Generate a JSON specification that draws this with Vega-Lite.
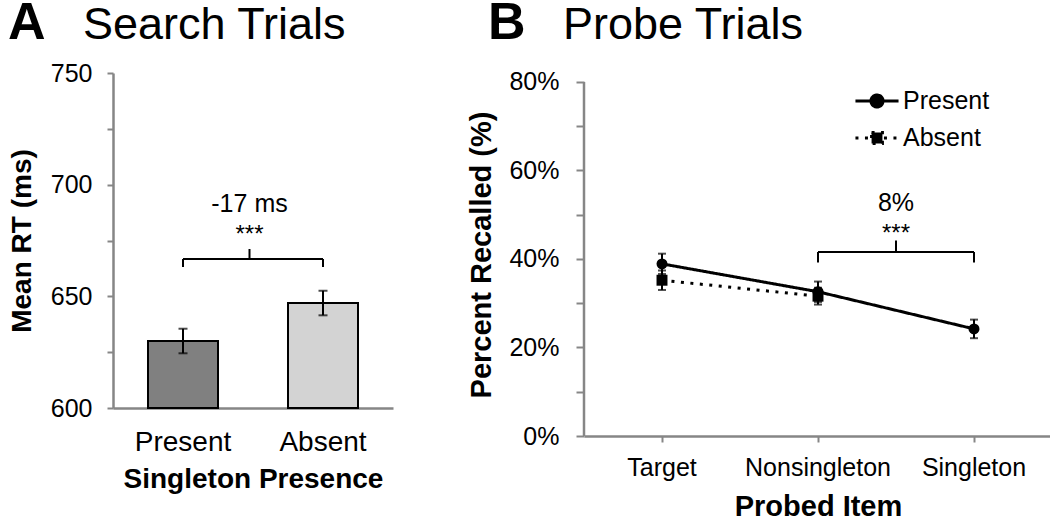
{
  "$schema": "https://vega.github.io/schema/vega-lite/v6.json",
  "padding": {"left": 8, "top": -4, "right": 0, "bottom": 0},
  "background": "white",
  "bounds": "full",
  "center": false,
  "spacing": 74,
  "resolve": {"legend": {"strokeDash": "independent"}},
  "config": {
    "view": {"stroke": null},
    "font": "Liberation Sans",
    "axis": {
      "domainColor": "#868686",
      "domainWidth": 2.5,
      "tickColor": "#868686",
      "tickWidth": 2,
      "labelColor": "black",
      "titleColor": "black",
      "labelFont": "Liberation Sans",
      "titleFont": "Liberation Sans",
      "grid": false
    },
    "text": {"font": "Liberation Sans"}
  },
  "hconcat": [
    {
      "width": 280,
      "height": 335,
      "title": {
        "text": "A",
        "subtitle": "\u200b\u00a0\u00a0\u00a0\u00a0\u00a0\u00a0Search Trials",
        "anchor": "start",
        "frame": "group",
        "dx": -105,
        "offset": 11,
        "font": "Liberation Sans",
        "fontSize": 52,
        "fontWeight": "bold",
        "color": "black",
        "subtitleFont": "Liberation Sans",
        "subtitleFontSize": 45,
        "subtitleColor": "black",
        "subtitlePadding": -47
      },
      "data": {
        "values": [
          {"presence": "Present", "rt": 630, "lo": 624.5, "hi": 635.5},
          {"presence": "Absent", "rt": 647, "lo": 641.5, "hi": 652.5}
        ]
      },
      "encoding": {
        "x": {
          "field": "presence",
          "type": "nominal",
          "sort": ["Present", "Absent"],
          "scale": {"paddingInner": 0.5, "paddingOuter": 0.25},
          "axis": {
            "title": "Singleton Presence",
            "labelAngle": 0,
            "ticks": false,
            "labelFontSize": 28,
            "labelPadding": 20,
            "titleFontSize": 28,
            "titleFontWeight": "bold",
            "titlePadding": 9
          }
        }
      },
      "layer": [
        {
          "mark": {"type": "bar", "stroke": "black", "strokeWidth": 2},
          "encoding": {
            "y": {
              "field": "rt",
              "type": "quantitative",
              "scale": {"domain": [600, 750], "zero": false, "nice": false},
              "axis": {
                "title": "Mean RT (ms)",
                "values": [600, 625, 650, 675, 700, 725, 750],
                "labelExpr": "datum.value % 50 === 0 ? datum.label : ''",
                "tickSize": 6,
                "labelPadding": 15,
                "labelFontSize": 25,
                "titleFontSize": 28,
                "titleFontWeight": "bold",
                "titlePadding": 14
              }
            },
            "y2": {"datum": 600},
            "fill": {
              "field": "presence",
              "type": "nominal",
              "scale": {"domain": ["Present", "Absent"], "range": ["#808080", "#d3d3d3"]},
              "legend": null
            }
          }
        },
        {
          "mark": {"type": "rule", "strokeWidth": 2, "color": "black"},
          "encoding": {
            "y": {"field": "lo", "type": "quantitative", "title": "Mean RT (ms)"},
            "y2": {"field": "hi"}
          }
        },
        {
          "mark": {"type": "tick", "size": 9, "thickness": 2, "color": "black"},
          "encoding": {"y": {"field": "lo", "type": "quantitative", "title": "Mean RT (ms)"}}
        },
        {
          "mark": {"type": "tick", "size": 9, "thickness": 2, "color": "black"},
          "encoding": {"y": {"field": "hi", "type": "quantitative", "title": "Mean RT (ms)"}}
        },
        {
          "data": {"values": [{"presence": "Present", "to": "Absent", "level": 666.7}]},
          "mark": {"type": "rule", "strokeWidth": 2, "color": "black"},
          "encoding": {
            "x2": {"field": "to"},
            "y": {"field": "level", "type": "quantitative", "title": "Mean RT (ms)"}
          }
        },
        {
          "data": {"values": [
            {"presence": "Present", "low": 663.1, "level": 666.7},
            {"presence": "Absent", "low": 663.1, "level": 666.7}
          ]},
          "mark": {"type": "rule", "strokeWidth": 2, "color": "black"},
          "encoding": {
            "y": {"field": "low", "type": "quantitative", "title": "Mean RT (ms)"},
            "y2": {"field": "level"}
          }
        },
        {
          "data": {"values": [{"presence": "Present", "low": 666.7, "level": 671.2}]},
          "mark": {"type": "rule", "strokeWidth": 2, "color": "black"},
          "encoding": {
            "x": {"field": "presence", "type": "nominal", "bandPosition": 1.45},
            "y": {"field": "low", "type": "quantitative", "title": "Mean RT (ms)"},
            "y2": {"field": "level"}
          }
        },
        {
          "data": {"values": [{"presence": "Present", "label": "-17 ms", "level": 687.8}]},
          "mark": {"type": "text", "fontSize": 25, "baseline": "alphabetic", "align": "center", "color": "black"},
          "encoding": {
            "x": {"field": "presence", "type": "nominal", "bandPosition": 1.45},
            "y": {"field": "level", "type": "quantitative", "title": "Mean RT (ms)"},
            "text": {"field": "label"}
          }
        },
        {
          "data": {"values": [{"presence": "Present", "label": "***", "level": 674.3}]},
          "mark": {"type": "text", "fontSize": 24, "baseline": "alphabetic", "align": "center", "color": "black"},
          "encoding": {
            "x": {"field": "presence", "type": "nominal", "bandPosition": 1.45},
            "y": {"field": "level", "type": "quantitative", "title": "Mean RT (ms)"},
            "text": {"field": "label"}
          }
        }
      ]
    },
    {
      "width": 468,
      "height": 363,
      "title": {
        "text": "B",
        "subtitle": "\u200b\u00a0\u00a0\u00a0\u00a0\u00a0\u00a0Probe Trials",
        "anchor": "start",
        "frame": "group",
        "dx": -96,
        "offset": 20,
        "font": "Liberation Sans",
        "fontSize": 52,
        "fontWeight": "bold",
        "color": "black",
        "subtitleFont": "Liberation Sans",
        "subtitleFontSize": 45,
        "subtitleColor": "black",
        "subtitlePadding": -47
      },
      "data": {
        "values": [
          {"item": "Target", "presence": "Present", "pct": 38.9, "lo": 36.6, "hi": 41.2},
          {"item": "Nonsingleton", "presence": "Present", "pct": 32.6, "lo": 30.3, "hi": 34.9},
          {"item": "Singleton", "presence": "Present", "pct": 24.2, "lo": 22.1, "hi": 26.3},
          {"item": "Target", "presence": "Absent", "pct": 35.2, "lo": 33.0, "hi": 37.4},
          {"item": "Nonsingleton", "presence": "Absent", "pct": 31.6, "lo": 29.7, "hi": 33.5}
        ]
      },
      "encoding": {
        "x": {
          "field": "item",
          "type": "nominal",
          "sort": ["Target", "Nonsingleton", "Singleton"],
          "scale": {"type": "band", "paddingInner": 0, "paddingOuter": 0},
          "axis": {
            "title": "Probed Item",
            "labelAngle": 0,
            "tickSize": 6,
            "bandPosition": 0.5,
            "labelFontSize": 25,
            "labelPadding": 13,
            "titleFontSize": 29,
            "titleFontWeight": "bold",
            "titlePadding": 12
          }
        }
      },
      "layer": [
        {
          "data": {"values": [{"item": "Target", "bottom": 0, "top": 80}]},
          "mark": {"type": "rule", "strokeWidth": 2.5, "color": "#868686"},
          "encoding": {
            "x": {"field": "item", "type": "nominal", "bandPosition": 0},
            "y": {"field": "bottom", "type": "quantitative", "title": "Percent Recalled (%)"},
            "y2": {"field": "top"}
          }
        },
        {
          "mark": {"type": "line", "strokeWidth": 3, "color": "black"},
          "encoding": {
            "y": {
              "field": "pct",
              "type": "quantitative",
              "scale": {"domain": [0, 82.03], "nice": false},
              "axis": {
                "title": "Percent Recalled (%)",
                "domain": false,
                "values": [0, 10, 20, 30, 40, 50, 60, 70, 80],
                "labelExpr": "datum.value % 20 === 0 ? datum.value + '%' : ''",
                "tickSize": 8,
                "labelPadding": 17,
                "labelFontSize": 25,
                "titleFontSize": 29,
                "titleFontWeight": "bold",
                "titlePadding": 12
              }
            },
            "strokeDash": {
              "field": "presence",
              "type": "nominal",
              "scale": {"domain": ["Present", "Absent"], "range": [[1, 0], [3, 6.5]]},
              "legend": {
                "title": null,
                "orient": "none",
                "legendX": 276,
                "legendY": 11,
                "padding": 0,
                "rowPadding": 7,
                "labelFontSize": 25,
                "labelColor": "black",
                "labelFont": "Liberation Sans",
                "labelOffset": 9,
                "symbolSize": 961,
                "symbolStrokeWidth": 3,
                "symbolStrokeColor": "black",
                "symbolFillColor": "black",
                "encode": {
                  "symbols": {
                    "update": {
                      "shape": {"signal": "datum.value === 'Present' ? 'M-1.39,0L1.39,0M-0.39,0A0.39,0.39,0,1,0,0.39,0A0.39,0.39,0,1,0,-0.39,0Z' : 'M-1.39,0L1.39,0M-0.35,-0.35L0.35,-0.35L0.35,0.35L-0.35,0.35Z'"},
                      "fill": {"value": "black"},
                      "stroke": {"value": "black"},
                      "strokeWidth": {"value": 3},
                      "size": {"value": 961},
                      "opacity": {"value": 1}
                    }
                  }
                }
              }
            }
          }
        },
        {
          "transform": [{"filter": "datum.presence === 'Present'"}],
          "mark": {"type": "point", "shape": "circle", "filled": true, "size": 120, "color": "black", "opacity": 1},
          "encoding": {
            "y": {"field": "pct", "type": "quantitative", "title": "Percent Recalled (%)"}
          }
        },
        {
          "transform": [{"filter": "datum.presence === 'Absent'"}],
          "mark": {"type": "point", "shape": "square", "filled": true, "size": 120, "color": "black", "opacity": 1},
          "encoding": {
            "y": {"field": "pct", "type": "quantitative", "title": "Percent Recalled (%)"}
          }
        },
        {
          "mark": {"type": "rule", "strokeWidth": 2, "color": "black"},
          "encoding": {
            "y": {"field": "lo", "type": "quantitative", "title": "Percent Recalled (%)"},
            "y2": {"field": "hi"}
          }
        },
        {
          "mark": {"type": "tick", "size": 8, "thickness": 2, "color": "black"},
          "encoding": {"y": {"field": "lo", "type": "quantitative", "title": "Percent Recalled (%)"}}
        },
        {
          "mark": {"type": "tick", "size": 8, "thickness": 2, "color": "black"},
          "encoding": {"y": {"field": "hi", "type": "quantitative", "title": "Percent Recalled (%)"}}
        },
        {
          "data": {"values": [{"item": "Nonsingleton", "to": "Singleton", "level": 41.6}]},
          "mark": {"type": "rule", "strokeWidth": 2, "color": "black"},
          "encoding": {
            "x2": {"field": "to"},
            "y": {"field": "level", "type": "quantitative", "title": "Percent Recalled (%)"}
          }
        },
        {
          "data": {"values": [
            {"item": "Nonsingleton", "low": 39.2, "level": 41.6},
            {"item": "Singleton", "low": 39.2, "level": 41.6}
          ]},
          "mark": {"type": "rule", "strokeWidth": 2, "color": "black"},
          "encoding": {
            "y": {"field": "low", "type": "quantitative", "title": "Percent Recalled (%)"},
            "y2": {"field": "level"}
          }
        },
        {
          "data": {"values": [{"item": "Nonsingleton", "low": 41.6, "level": 44.2}]},
          "mark": {"type": "rule", "strokeWidth": 2, "color": "black"},
          "encoding": {
            "x": {"field": "item", "type": "nominal", "bandPosition": 1},
            "y": {"field": "low", "type": "quantitative", "title": "Percent Recalled (%)"},
            "y2": {"field": "level"}
          }
        },
        {
          "data": {"values": [{"item": "Nonsingleton", "label": "8%", "level": 50.9}]},
          "mark": {"type": "text", "fontSize": 25, "baseline": "alphabetic", "align": "center", "color": "black"},
          "encoding": {
            "x": {"field": "item", "type": "nominal", "bandPosition": 1},
            "y": {"field": "level", "type": "quantitative", "title": "Percent Recalled (%)"},
            "text": {"field": "label"}
          }
        },
        {
          "data": {"values": [{"item": "Nonsingleton", "label": "***", "level": 44.0}]},
          "mark": {"type": "text", "fontSize": 24, "baseline": "alphabetic", "align": "center", "color": "black"},
          "encoding": {
            "x": {"field": "item", "type": "nominal", "bandPosition": 1},
            "y": {"field": "level", "type": "quantitative", "title": "Percent Recalled (%)"},
            "text": {"field": "label"}
          }
        }
      ]
    }
  ]
}
